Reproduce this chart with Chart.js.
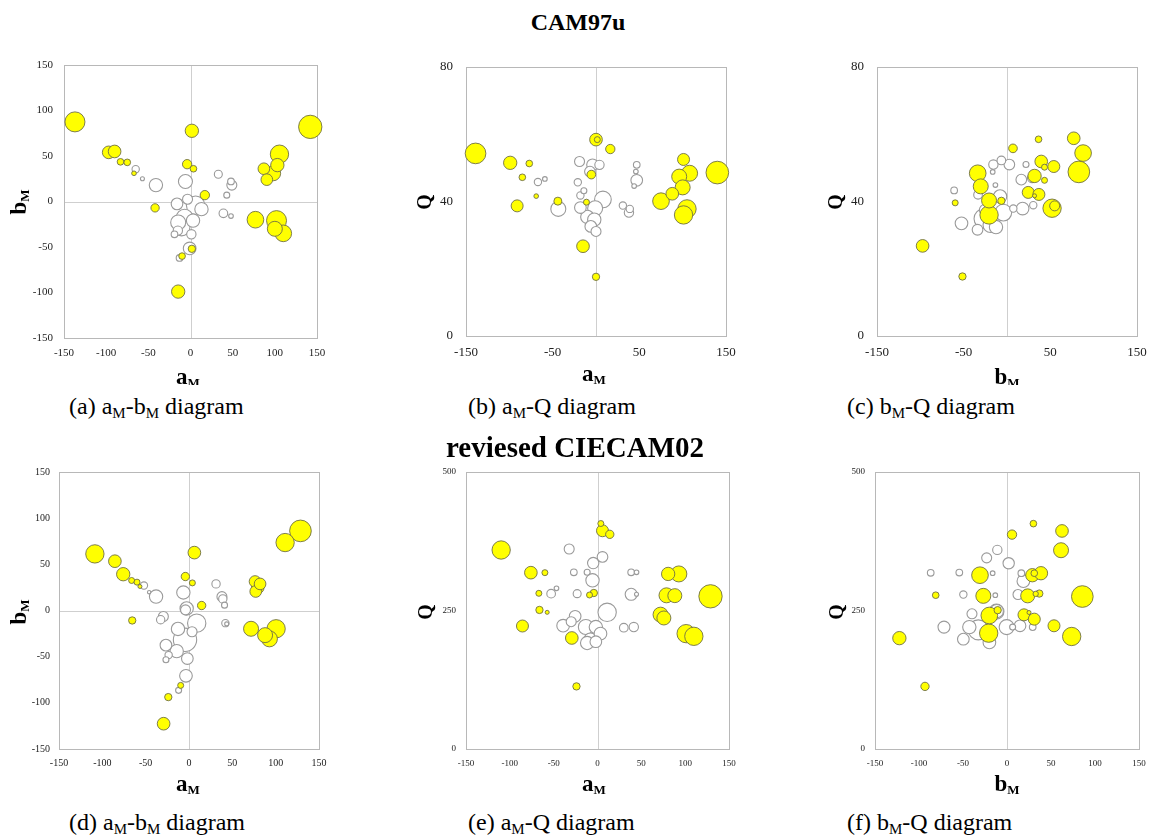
<!DOCTYPE html>
<html>
<head>
<meta charset="utf-8">
<script src="https://cdn.jsdelivr.net/npm/chart.js@4.4.1/dist/chart.umd.min.js"></script>
<style>
  html, body { margin: 0; padding: 0; background: #fff; }
  body { width: 1157px; height: 840px; position: relative; overflow: hidden;
         font-family: "Liberation Serif", "Times New Roman", serif; color: #000; }
  canvas { position: absolute; }
  .title { position: absolute; font-weight: bold; text-align: center; width: 400px; white-space: nowrap; z-index: 2; }
  .cap { position: absolute; font-size: 24px; line-height: 28px; white-space: nowrap; z-index: 2; }
  .cap sub { font-size: 15px; vertical-align: -4px; line-height: 0; }
</style>
</head>
<body>
<div class="title" style="left:378px; top:7px; font-size:24px; line-height:30px;">CAM97u</div>
<div class="title" style="left:375px; top:431px; font-size:29px; line-height:32px;">reviesed CIECAM02</div>

<canvas id="pa" width="340" height="345" style="left:0px; top:40px;"></canvas>
<canvas id="pb" width="360" height="345" style="left:390px; top:40px;"></canvas>
<canvas id="pc" width="387" height="345" style="left:770px; top:40px;"></canvas>
<canvas id="pd" width="345" height="350" style="left:0px; top:450px;"></canvas>
<canvas id="pe" width="365" height="350" style="left:390px; top:450px;"></canvas>
<canvas id="pf" width="387" height="350" style="left:770px; top:450px;"></canvas>

<div class="cap" style="left:69px; top:392px;">(a) a<sub>M</sub>-b<sub>M</sub> diagram</div>
<div class="cap" style="left:468px; top:392px;">(b) a<sub>M</sub>-Q diagram</div>
<div class="cap" style="left:847px; top:392px;">(c) b<sub>M</sub>-Q diagram</div>
<div class="cap" style="left:69px; top:808px;">(d) a<sub>M</sub>-b<sub>M</sub> diagram</div>
<div class="cap" style="left:468px; top:808px;">(e) a<sub>M</sub>-Q diagram</div>
<div class="cap" style="left:847px; top:808px;">(f) b<sub>M</sub>-Q diagram</div>

<script>
// ---- CAM97u: [x, y, bubble size] ----
const camAbYellow = [
  [-137, 87.5, 6.0], [142, 82, 7.0], [1.6, 77.7, 4.0], [-97, 54, 3.8], [-90, 55, 3.8],
  [-83, 43.6, 2.0], [-75, 43, 2.0], [-67, 31, 1.4], [-4, 41, 2.8], [3.5, 36, 2.0],
  [105.5, 52, 5.5], [103, 40, 4.0], [98, 31, 4.5], [87, 36, 3.5], [90.5, 24, 3.5],
  [17, 7, 2.8], [-42, -7, 2.5], [77, -20, 5.0], [102, -21, 6.0], [100, -30, 4.5],
  [110, -35, 5.0], [1.6, -52, 2.2], [-10, -60, 2.0], [-14.6, -99, 4.0]
];
const camAbWhite = [
  [-41, 18, 4.0], [-6, 22, 4.2], [33, 30, 2.4], [48, 22, 2.0], [49, 18, 3.0],
  [43, 7, 1.8], [-3.5, 2.5, 3.0], [6, -4, 5.5], [-16, -2.6, 3.5], [13, -8.4, 4.0],
  [39, -13, 2.6], [48, -16, 1.4], [-7, -17.6, 5.0], [-14.6, -23, 4.5], [-10.6, -28.6, 5.0],
  [3, -21, 4.0], [-15, -32, 2.8], [-19, -36, 2.0], [1, -36, 2.8], [-1, -51.6, 3.8],
  [-13, -62, 2.0], [-65, 35.5, 2.2], [-57, 25, 1.2]
];
const camAqYellow = [
  [-139, 54.3, 6.2], [140, 48.6, 6.8], [0, 58.4, 3.8], [1.5, 58.4, 1.8], [16.5, 55.6, 2.8],
  [-99, 51.5, 4.0], [-77, 51.3, 2.0], [-85, 47.2, 2.0], [-69, 41.6, 1.4], [-91, 38.7, 3.6],
  [-44, 40.1, 2.4], [-5.4, 48.0, 2.6], [-11, 39.8, 1.8], [-15, 26.7, 3.8], [0, 17.6, 2.2],
  [101, 52.5, 3.6], [96, 47.4, 4.5], [108, 48.4, 4.8], [100, 44.2, 4.5], [88, 42.3, 3.8],
  [75, 40.1, 5.0], [105, 37.8, 5.5], [101, 36.0, 5.5]
];
const camAqWhite = [
  [-19, 51.9, 3.0], [-4, 50.9, 3.5], [4, 50.9, 2.8], [-7, 48.9, 3.2], [-21, 45.7, 2.2],
  [-14, 43.2, 1.8], [-18, 41.8, 2.2], [8, 40.6, 5.0], [-18, 38.2, 3.5], [-1, 38.0, 4.5],
  [-10, 35.4, 4.0], [-2, 34.6, 4.0], [-6, 32.6, 3.5], [0, 31.1, 3.0], [47, 50.9, 2.0],
  [46, 48.9, 1.4], [47, 46.3, 3.5], [44, 44.6, 1.4], [31, 38.8, 2.2], [39, 37.8, 2.2],
  [38, 36.7, 2.8], [-43.5, 37.8, 4.5], [-59, 46.7, 1.4], [-67, 45.8, 2.2]
];
const camBqYellow = [
  [-97.4, 26.8, 3.8], [-51.4, 17.7, 2.2], [-59.8, 39.6, 1.8], [-33.8, 48.4, 5.0], [-30.3, 44.5, 4.5],
  [-20.7, 40.3, 4.5], [-20.7, 36.0, 5.5], [-6.5, 40.2, 2.2], [6.9, 55.8, 2.6], [36.4, 58.5, 2.0],
  [77, 58.8, 3.8], [87.8, 54.4, 5.0], [82.9, 48.8, 6.5], [39.5, 51.9, 3.8], [43.3, 50.2, 1.8],
  [54, 50.4, 3.6], [31.8, 47.6, 4.0], [43.3, 46.3, 1.8], [24.5, 42.7, 3.6], [36.8, 42.1, 3.6],
  [31.8, 41.7, 1.2], [52, 38, 5.5], [55, 38.7, 3.0]
];
const camBqWhite = [
  [-15.7, 51, 2.8], [-6.5, 52.2, 2.6], [2.7, 51, 3.2], [-16.5, 48.8, 1.4], [21.9, 51, 1.8],
  [16.5, 46.5, 3.2], [29, 47, 2.8], [-13.4, 44.9, 1.4], [-61, 43.3, 2.0], [-33.4, 42, 2.6],
  [-8, 41.5, 4.0], [7.3, 37.9, 2.2], [18, 37.9, 3.8], [30.3, 38.9, 2.2], [-4.2, 36.7, 5.0],
  [-26.5, 34.9, 6.0], [-52.5, 33.5, 3.8], [-34, 31.6, 3.2], [-12.7, 32.4, 4.0], [-25.7, 37.5, 3.2],
  [-19, 33, 4.5]
];

// ---- revised CIECAM02: [x, y, bubble size] ----
const cieAbYellow = [
  [-108.6, 61.3, 5.5], [-85.5, 53.4, 3.8], [-75.9, 39.3, 4.0], [-66.2, 32.5, 1.8], [-60, 30.7, 1.8],
  [-56.6, 26, 1.2], [-65.5, -10.8, 2.2], [6.2, 62.7, 3.8], [-4.2, 36.8, 2.5], [3.9, 29.9, 1.8],
  [14.6, 5.4, 2.5], [110.9, 73.6, 5.5], [128.6, 86.2, 6.5], [76.2, 31.4, 3.5], [77, 20.6, 3.5],
  [79.3, 24.9, 3.8], [82, 28.8, 3.5], [71.6, -19.8, 4.5], [100.5, -19.8, 5.5], [87.8, -26.7, 4.5],
  [92.8, -30.7, 4.8], [-9.6, -81.1, 1.8], [-23.9, -93.8, 2.2], [-29.3, -122.6, 3.8]
];
const cieAbWhite = [
  [31.2, 28.8, 2.5], [-6.5, 19.5, 4.0], [-38, 15.1, 4.0], [-52, 27, 2.2], [-46, 19.8, 1.0],
  [38, 15, 3.0], [39, 12.5, 2.5], [41, 5.8, 1.8], [-2.7, 2.2, 4.0], [-4, 0.7, 3.0],
  [8.9, -13.7, 5.5], [-29.6, -6.5, 3.0], [-32.7, -10, 2.5], [42, -13.7, 2.2], [43.5, -14.5, 1.2],
  [3.5, -23, 3.0], [-12.7, -20, 4.0], [-4.6, -31.7, 7.0], [-26.6, -37.5, 3.5], [-14.2, -44, 4.0],
  [-23.5, -48.3, 2.2], [-26.6, -53.4, 1.8], [-1.9, -52, 3.5], [-3.5, -70.7, 3.8], [-12, -86.5, 1.8]
];
const cieAqYellow = [
  [-109.9, 359.2, 5.5], [-76, 318.3, 3.8], [-60, 318.3, 1.8], [-66.9, 281, 1.8], [-66.2, 251, 2.2],
  [-57.4, 246.7, 1.2], [-85.6, 222, 3.6], [-29.3, 200.4, 3.8], [-24, 113, 2.2], [3.8, 407, 1.8],
  [5.7, 394, 3.6], [14, 387.5, 2.5], [-4.2, 281.6, 2.2], [-9.1, 278, 1.8], [80.6, 316, 4.0],
  [92.8, 316, 4.8], [78.7, 277.4, 4.5], [88.2, 276.8, 4.2], [128.9, 275.6, 7.0], [71.9, 242.5, 4.5],
  [75.7, 236.5, 4.2], [101.1, 208.2, 5.5], [109.9, 203.4, 5.5]
];
const cieAqWhite = [
  [-32.3, 361, 3.0], [5.7, 346.6, 3.2], [-4.9, 335.7, 3.4], [-27, 319, 2.0], [-11.8, 319, 1.8],
  [-5.7, 304.5, 4.0], [38.4, 319, 2.0], [44.5, 319, 1.4], [-52.9, 280.4, 2.6], [-46.8, 290, 1.4],
  [-23.2, 280.4, 2.4], [38.4, 279.2, 3.6], [44.5, 279.2, 1.2], [11, 246.7, 5.5], [-25.5, 239.5, 3.5],
  [-30, 229.8, 3.0], [-39.2, 222.6, 3.8], [-13.3, 220.2, 4.5], [-1.9, 220.2, 4.0], [3.4, 208.2, 3.8],
  [-8, 197.4, 4.0], [-1.9, 193.7, 3.5], [30, 219, 2.6], [41.4, 220.2, 2.8], [-11.8, 191.3, 4.0]
];
const cieBqYellow = [
  [-122.3, 200.1, 4.0], [-93.2, 113, 2.5], [-81, 277.6, 2.0], [-30.7, 313.7, 5.0], [-26.9, 276.4, 4.5],
  [-20.1, 241, 5.0], [-10.6, 250.6, 2.2], [-20.8, 209.1, 5.5], [5.7, 387, 2.8], [30, 406.8, 2.0],
  [62.5, 393.6, 3.8], [61.4, 358.8, 4.5], [85.6, 275.2, 6.5], [28.8, 313.7, 4.0], [38.6, 317.3, 4.0],
  [31, 317.3, 2.0], [23.5, 276.4, 4.2], [36.7, 280.6, 2.2], [32.6, 280, 1.6], [19.3, 242.2, 3.6],
  [31, 234.4, 3.6], [25, 246.4, 1.2], [53.4, 222.4, 3.6], [73.5, 203.1, 5.5]
];
const cieBqWhite = [
  [-11, 359.4, 2.8], [-23.1, 345, 3.0], [1.9, 335.3, 3.4], [-54.2, 318.5, 2.0], [-86.7, 318, 2.0],
  [-16.3, 317.3, 1.4], [16.3, 317.3, 2.0], [18.6, 302.9, 3.8], [-49.6, 278.8, 2.2], [-13.3, 277.6, 1.4],
  [12.5, 278.8, 3.0], [-11.7, 248.8, 4.0], [-39.8, 244, 3.0], [-71.6, 220, 3.6], [-42.8, 220, 4.0],
  [-32.6, 215, 6.0], [-0.4, 220, 4.5], [6.4, 220, 1.8], [14.8, 222.4, 3.5], [29.2, 220, 2.0],
  [-49.6, 198.3, 3.5], [-20, 192.3, 3.8], [-12, 248, 4.5]
];

// axis ranges and tick steps
const abRange = { min: -150, max: 150 };
const camQRange = { min: 0, max: 80, step: 40 };
const cieQRange = { min: 0, max: 500, step: 250 };

// bubble size unit -> radius in px
const RADIUS_PER_SIZE = 5 / 3;
const FONT = '"Liberation Serif", "Times New Roman", serif';

function toPoints(rows) {
  return rows.map(([x, y, s]) => ({ x, y, r: s * RADIUS_PER_SIZE }))
             .sort((p, q) => q.r - p.r);
}

function drawLabel(ctx, t) {
  ctx.save();
  ctx.translate(t.x, t.y);
  if (t.rotate) ctx.rotate(-Math.PI / 2);
  ctx.fillStyle = '#000';
  ctx.textBaseline = 'alphabetic';
  const mainFont = 'bold ' + t.size + 'px ' + FONT;
  const subFont = 'bold ' + Math.round(t.size * 0.58) + 'px ' + FONT;
  ctx.font = mainFont;
  const w1 = ctx.measureText(t.main).width;
  let w2 = 0;
  if (t.sub) { ctx.font = subFont; w2 = ctx.measureText(t.sub).width; }
  const x0 = -(w1 + w2) / 2;
  ctx.font = mainFont;
  ctx.fillText(t.main, x0, 0);
  if (t.sub) { ctx.font = subFont; ctx.fillText(t.sub, x0 + w1, 3); }
  ctx.restore();
}

const framePlugin = {
  id: 'frame',
  beforeDatasetsDraw(chart, args, opts) {
    const { ctx, chartArea: a, scales } = chart;
    ctx.save();
    ctx.lineWidth = 1;
    ctx.strokeStyle = '#cfcfcf';
    const zx = Math.round(scales.x.getPixelForValue(0)) + 0.5;
    ctx.beginPath(); ctx.moveTo(zx, a.top); ctx.lineTo(zx, a.bottom); ctx.stroke();
    if (opts.zeroY) {
      const zy = Math.round(scales.y.getPixelForValue(0)) + 0.5;
      ctx.beginPath(); ctx.moveTo(a.left, zy); ctx.lineTo(a.right, zy); ctx.stroke();
    }
    ctx.strokeStyle = '#b8b8b8';
    ctx.strokeRect(Math.round(a.left) + 0.5, Math.round(a.top) + 0.5,
                   Math.round(a.right - a.left), Math.round(a.bottom - a.top));
    ctx.restore();
  },
  afterDraw(chart, args, opts) {
    if (opts.xTitle) drawLabel(chart.ctx, opts.xTitle);
    if (opts.yTitle) drawLabel(chart.ctx, opts.yTitle);
  }
};

function makePanel(id, spec) {
  const tickFont = { family: FONT, size: spec.tick };
  new Chart(document.getElementById(id), {
    type: 'bubble',
    data: {
      datasets: [
        { data: toPoints(spec.yellow), backgroundColor: '#ffff00', borderColor: '#6f6f45',
          borderWidth: 0.9, clip: false },
        { data: toPoints(spec.white), backgroundColor: '#ffffff', borderColor: '#9a9a9a',
          borderWidth: 1.1, clip: false }
      ]
    },
    options: {
      responsive: false,
      animation: false,
      events: [],
      layout: { padding: { top: spec.padTop, right: spec.padRight, left: 0, bottom: 0 } },
      plugins: {
        legend: { display: false },
        tooltip: { enabled: false },
        frame: { zeroY: spec.zeroY, xTitle: spec.xTitle, yTitle: spec.yTitle }
      },
      scales: {
        x: {
          type: 'linear', min: spec.x.min, max: spec.x.max,
          grid: { display: false, drawTicks: false },
          border: { display: false },
          ticks: { stepSize: spec.x.step, font: tickFont, color: '#222', padding: spec.xPad, maxRotation: 0 },
          afterFit: s => { s.height = spec.xh; }
        },
        y: {
          type: 'linear', min: spec.y.min, max: spec.y.max,
          grid: { display: false, drawTicks: false },
          border: { display: false },
          ticks: { stepSize: spec.y.step, font: tickFont, color: '#222', padding: spec.yPad },
          afterFit: s => { s.width = spec.yw; }
        }
      }
    },
    plugins: [framePlugin]
  });
}

makePanel('pa', {
  yellow: camAbYellow, white: camAbWhite,
  x: { ...abRange, step: 50 }, y: { ...abRange, step: 50 }, zeroY: true,
  tick: 11, xPad: 9, yPad: 11, yw: 64, xh: 47, padTop: 25, padRight: 23,
  xTitle: { main: 'a', sub: 'M', x: 188, y: 344, size: 23 },
  yTitle: { main: 'b', sub: 'M', x: 26, y: 162, size: 23, rotate: true }
});
makePanel('pb', {
  yellow: camAqYellow, white: camAqWhite,
  x: { ...abRange, step: 100 }, y: camQRange, zeroY: false,
  tick: 13, xPad: 9, yPad: 13, yw: 76, xh: 49, padTop: 27, padRight: 24,
  xTitle: { main: 'a', sub: 'M', x: 204, y: 341, size: 23 },
  yTitle: { main: 'Q', x: 41, y: 162, size: 20, rotate: true }
});
makePanel('pc', {
  yellow: camBqYellow, white: camBqWhite,
  x: { ...abRange, step: 100 }, y: camQRange, zeroY: false,
  tick: 13, xPad: 9, yPad: 13, yw: 107, xh: 49, padTop: 27, padRight: 20,
  xTitle: { main: 'b', sub: 'M', x: 237, y: 344, size: 23 },
  yTitle: { main: 'Q', x: 72, y: 162, size: 20, rotate: true }
});
makePanel('pd', {
  yellow: cieAbYellow, white: cieAbWhite,
  x: { ...abRange, step: 50 }, y: { ...abRange, step: 50 }, zeroY: true,
  tick: 10, xPad: 8, yPad: 9, yw: 59, xh: 51, padTop: 22, padRight: 26,
  xTitle: { main: 'a', sub: 'M', x: 188, y: 341, size: 23 },
  yTitle: { main: 'b', sub: 'M', x: 26, y: 162, size: 23, rotate: true }
});
makePanel('pe', {
  yellow: cieAqYellow, white: cieAqWhite,
  x: { ...abRange, step: 50 }, y: cieQRange, zeroY: false,
  tick: 9, xPad: 9, yPad: 10, yw: 76, xh: 51, padTop: 22, padRight: 26,
  xTitle: { main: 'a', sub: 'M', x: 204, y: 341, size: 23 },
  yTitle: { main: 'Q', x: 42, y: 162, size: 20, rotate: true }
});
makePanel('pf', {
  yellow: cieBqYellow, white: cieBqWhite,
  x: { ...abRange, step: 50 }, y: cieQRange, zeroY: false,
  tick: 9, xPad: 9, yPad: 10, yw: 105, xh: 51, padTop: 22, padRight: 18,
  xTitle: { main: 'b', sub: 'M', x: 237, y: 341, size: 23 },
  yTitle: { main: 'Q', x: 73, y: 162, size: 20, rotate: true }
});
</script>
</body>
</html>
